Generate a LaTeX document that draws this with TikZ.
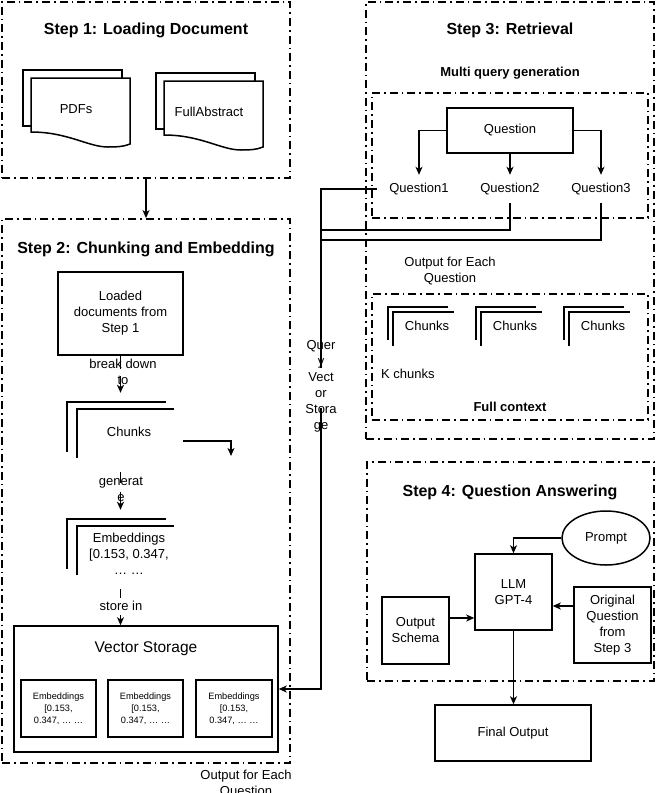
\documentclass[tikz,border=0pt]{standalone}
\usepackage{fontspec}
\setmainfont{Liberation Sans}
\usetikzlibrary{arrows.meta,calc,shapes.geometric}
\newcommand\ftnormal{\fontsize{13}{16}\selectfont}
\newcommand\fttitle{\fontsize{16}{19}\selectfont\bfseries}
\newcommand\ftsub{\fontsize{13}{16}\selectfont\bfseries}
\newcommand\ftbig{\fontsize{15.5}{18}\selectfont}
\newcommand\ftsmall{\fontsize{9.2}{12}\selectfont}
% stacked document sheets, origin = top-left corner of the back sheet
\newcommand\docsheets{%
  \draw[edge,fill=white] (0,0) rectangle (99,56);
  \draw[edge,fill=white] (8,8) -- (107,8) -- (107,74)
    .. controls (100,77) and (92,77) .. (85,77)
    .. controls (65,77) and (45,62) .. (8,62) -- cycle;}
% two open-sided chunk outlines (large)
\newcommand\chunkpair{%
  \draw[edge] (0,59) -- (0,9) -- (99,9);
  \draw[edge] (10,65) -- (10,16) -- (107,16);}
% two open-sided chunk outlines (small)
\newcommand\chunkpairsmall{%
  \draw[edge] (0,33) -- (0,0) -- (60,0);
  \draw[edge] (5,39) -- (5,5) -- (66,5);}
\begin{document}
\begin{tikzpicture}[x=1pt,y=-1pt,
  frame/.style={draw,line width=1.8pt,dash pattern=on 8pt off 4pt on 1.6pt off 4pt,inner sep=0pt},
  box/.style={draw,line width=1.5pt,fill=white,inner sep=0pt,align=center,font=\ftnormal},
  edge/.style={line width=1.5pt},
  arr/.style={edge,-{Stealth[length=8pt,width=7pt,inset=2.2pt]}},
  txt/.style={inner sep=0pt,align=center,font=\ftnormal},
  title/.style={inner sep=0pt,font=\fttitle},
  sub/.style={inner sep=0pt,font=\ftsub},
  gap/.style={fill=white,draw=none}]
\useasboundingbox (0,0) rectangle (657,793);

% ---------- group frames ----------
\node[frame,minimum width=288,minimum height=176] (s1) at (146,90) {};
\node[frame,minimum width=288,minimum height=544] (s2) at (146,491) {};
\node[frame,minimum width=288,minimum height=437] (s3) at (510,220.5) {};
\node[frame,minimum width=287,minimum height=219] (s4) at (510.5,571.5) {};
\node[frame,minimum width=276,minimum height=125] (mq) at (510,155.5) {};
\node[frame,minimum width=276,minimum height=126] (fc) at (510,357) {};

\node[title] (t1) at (146,30) {Step 1: Loading Document};
\node[title] (t2) at (146,249) {Step 2: Chunking and Embedding};
\node[title] (t3) at (510,30) {Step 3: Retrieval};
\node[title] (t4) at (510,492) {Step 4: Question Answering};
\node[sub] (mqt) at (510,73) {Multi query generation};
\node[sub] (fct) at (510,407) {Full context};

% ---------- step 1 ----------
\begin{scope}[shift={(23,70)}]\docsheets\end{scope}
\begin{scope}[shift={(156,73)}]\docsheets\end{scope}
\node[txt] (pdfs) at (76,109) {PDFs};
\node[txt] (fullabs) at (209,112) {FullAbstract};

% ---------- step 2 ----------
\node[box,minimum width=125,minimum height=83] (loaded) at (120.5,313.5) {Loaded\\documents from\\Step 1};
\node[inner sep=0pt,minimum width=107,minimum height=79] (chunks) at (120.5,432.5) {};
\node[inner sep=0pt,minimum width=107,minimum height=79] (emb) at (120.5,549.5) {};
\begin{scope}[shift={(chunks.north west)}]\chunkpair\end{scope}
\begin{scope}[shift={(emb.north west)}]\chunkpair\end{scope}
\node[txt] (chunkstxt) at (129,432) {Chunks};
\node[txt] (embtxt) at (129,554) {Embeddings\\{}[0.153, 0.347,\\… …};

\node[box,minimum width=264,minimum height=126] (vs) at (146,689) {};
\node[txt,font=\ftbig] (vstxt) at (146,649) {Vector Storage};
\node[box,font=\ftsmall,minimum width=75,minimum height=57] (e1) at (58.5,708.5) {Embeddings\\{}[0.153,\\0.347, … …};
\node[box,font=\ftsmall,minimum width=75,minimum height=57] (e2) at (145.5,708.5) {Embeddings\\{}[0.153,\\0.347, … …};
\node[box,font=\ftsmall,minimum width=76,minimum height=57] (e3) at (234,708.5) {Embeddings\\{}[0.153,\\0.347, … …};

\coordinate (dangle) at (231,456);
\draw[arr] (s1.south) -- (s2.north);
\draw[arr] (loaded.south) -- (chunks.north);
\draw[arr] (chunks.south) -- (emb.north);
\draw[arr] (emb.south) -- (emb.south |- vs.north);
\draw[arr] ($(chunks.east)+(9,8.5)$) -| (dangle);

% ---------- step 3 ----------
\node[box,minimum width=126,minimum height=45] (qbox) at (510,130.5) {Question};
\node[txt,minimum width=84,minimum height=28] (q1) at (419,189) {Question1};
\node[txt,minimum width=70,minimum height=28] (q2) at (510,189) {Question2};
\node[txt,minimum width=70,minimum height=28] (q3) at (601,189) {Question3};
\draw[arr] (qbox.west) -| (q1.north);
\draw[arr] (qbox.south) -- (q2.north);
\draw[arr] (qbox.east) -| (q3.north);

\coordinate (trunk) at (321,0);
\coordinate (j2) at (321,230);
\coordinate (j3) at (321,240);
\draw[arr] (q1.west) -- (q1.west -| trunk) -- (trunk |- vs.east) -- (vs.east);
\draw[edge] (q2.south) |- (j2);
\draw[edge] (q3.south) |- (j3);

\node[txt] (outeach) at (450,271) {Output for Each\\Question};
\begin{scope}[shift={(388,307)}]\chunkpairsmall\end{scope}
\begin{scope}[shift={(476,307)}]\chunkpairsmall\end{scope}
\begin{scope}[shift={(564,307)}]\chunkpairsmall\end{scope}
\node[txt] (c1) at (427,326) {Chunks};
\node[txt] (c2) at (515,326) {Chunks};
\node[txt] (c3) at (603,326) {Chunks};
\node[txt,anchor=west] (kch) at (381,374) {K chunks};

% ---------- step 4 ----------
\node[draw,line width=1.5pt,ellipse,inner sep=0pt,minimum width=88,minimum height=54,font=\ftnormal] (prompt) at (606,538) {Prompt};
\node[box,minimum width=77,minimum height=76] (llm) at (513.5,592) {LLM\\GPT-4};
\node[box,minimum width=77,minimum height=76] (orig) at (612.5,625) {Original\\Question\\from\\Step 3};
\node[box,minimum width=67,minimum height=67] (schema) at (415.5,630.5) {Output\\Schema};
\node[box,minimum width=156,minimum height=56] (final) at (513,733) {Final Output};
\draw[arr] (prompt.west) -| (llm.north);
\draw[arr] ($(orig.west)+(0,-19)$) -- ($(llm.east)+(0,14)$);
\draw[arr] ($(schema.east)+(0,-12.5)$) -- ($(llm.west)+(0,26)$);
\draw[arr] (llm.south) -- (llm.south |- final.north);

% ---------- connector labels ----------
\fill[gap] (117,369) rectangle (124,376);
\node[txt] (lbreak) at (123,372) {break down\\to};
\fill[gap] (117,483) rectangle (124,492);
\node[txt] (lgen) at (121,489) {generat\\e};
\fill[gap] (117,598) rectangle (124,615);
\node[txt] (lstore) at (121,606) {store in};
\fill[gap] (317,368) rectangle (325,408);
\node[txt] (lquery) at (321,386) {Quer\\y\\Vect\\or\\Stora\\ge};
\node[txt] (outbottom) at (246,784) {Output for Each\\Question};
\end{tikzpicture}
\end{document}
